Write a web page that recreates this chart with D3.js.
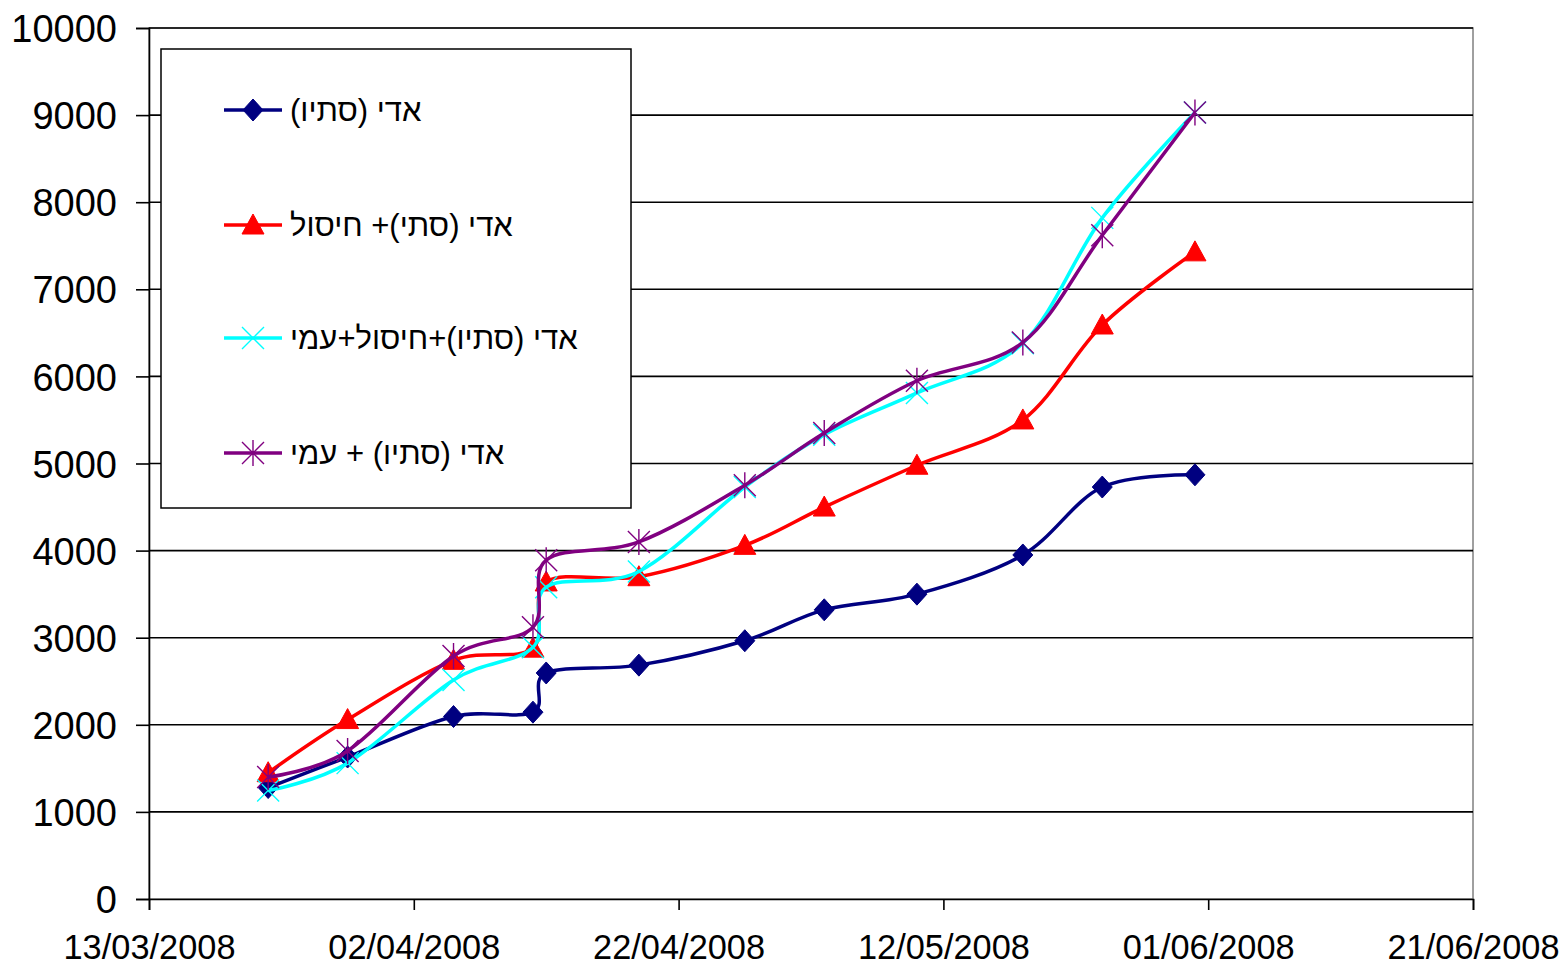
<!DOCTYPE html>
<html>
<head>
<meta charset="utf-8">
<script src="https://cdn.jsdelivr.net/npm/d3@7"></script>
<style>
  body { margin: 0; background: #fff; }
  text { font-family: "Liberation Sans", Arial, sans-serif; }
</style>
</head>
<body>
<svg id="chart"></svg>
<script>
const dates = ["22/03/2008", "28/03/2008", "05/04/2008", "11/04/2008", "12/04/2008", "19/04/2008",
               "27/04/2008", "03/05/2008", "10/05/2008", "18/05/2008", "24/05/2008", "31/05/2008"];

const seriesNames = ["אדי (סתיו)", "אדי (סתי)+ חיסול", "אדי (סתיו)+חיסול+עמי", "אדי (סתיו) + עמי"];
const seriesColors = ["#000080", "#ff0000", "#00ffff", "#800080"];
const seriesMarkers = ["diamond", "triangle", "cross", "asterisk"];

const s1 = [1280, 1630, 2095, 2145, 2595, 2685, 2965, 3320, 3500, 3950, 4730, 4870];
const s2 = [1450, 2060, 2740, 2880, 3640, 3700, 4060, 4500, 4980, 5500, 6590, 7430];
const s3 = [1245, 1560, 2515, 2890, 3580, 3760, 4730, 5330, 5810, 6380, 7820, 9030];
const s4 = [1400, 1700, 2790, 3120, 3890, 4100, 4750, 5350, 5950, 6390, 7620, 9030];
const seriesValues = [s1, s2, s3, s4];

const xTickLabels = ["13/03/2008", "02/04/2008", "22/04/2008", "12/05/2008", "01/06/2008", "21/06/2008"];
const yTicks = [0, 1000, 2000, 3000, 4000, 5000, 6000, 7000, 8000, 9000, 10000];

const width = 1566, height = 967;
const margin = { top: 28, right: 93, bottom: 68, left: 149 };
const chartWidth = width - margin.left - margin.right;
const chartHeight = height - margin.top - margin.bottom;

const parse = d3.utcParse("%d/%m/%Y");

const svg = d3.select("#chart")
  .attr("width", width)
  .attr("height", height);

const x = d3.scaleUtc()
  .domain([parse(xTickLabels[0]), parse(xTickLabels[xTickLabels.length - 1])])
  .range([0, chartWidth]);

const y = d3.scaleLinear()
  .domain([0, 10000])
  .range([chartHeight, 0]);

const g = svg.append("g")
  .attr("transform", `translate(${margin.left},${margin.top})`);

// plot frame
g.append("rect")
  .attr("width", chartWidth)
  .attr("height", chartHeight)
  .attr("fill", "none")
  .attr("stroke", "#808080")
  .attr("stroke-width", 1.5);

// gridlines
g.append("g")
  .selectAll("line")
  .data(yTicks.slice(1))
  .join("line")
    .attr("x1", 0)
    .attr("x2", chartWidth)
    .attr("y1", d => y(d))
    .attr("y2", d => y(d))
    .attr("stroke", "#000")
    .attr("stroke-width", 1.6);

// y axis
g.append("g")
  .call(d3.axisLeft(y).tickValues(yTicks).tickSize(13).tickPadding(19).tickFormat(d3.format("d")))
  .call(a => a.selectAll("line, .domain").attr("stroke", "#000").attr("stroke-width", 1.6))
  .call(a => a.selectAll("text")
    .attr("fill", "#000")
    .attr("font-size", 38)
    .attr("font-family", "'Liberation Sans', Arial, sans-serif")
    .attr("dy", "0.36em"));

// x axis
g.append("g")
  .attr("transform", `translate(0,${chartHeight})`)
  .call(d3.axisBottom(x).tickValues(xTickLabels.map(parse)).tickSize(11).tickPadding(24).tickFormat(d3.utcFormat("%d/%m/%Y")))
  .call(a => a.selectAll("line, .domain").attr("stroke", "#000").attr("stroke-width", 1.6))
  .call(a => a.selectAll("text")
    .attr("fill", "#000")
    .attr("font-size", 35)
    .attr("font-family", "'Liberation Sans', Arial, sans-serif")
    .attr("textLength", 172)
    .attr("lengthAdjust", "spacingAndGlyphs"));

function markerPath(type) {
  if (type === "diamond") return "M0,-11L10,0L0,11L-10,0Z";
  if (type === "triangle") return "M0,-11L11,9L-11,9Z";
  if (type === "cross") return "M-11,-11L11,11M-11,11L11,-11";
  return "M-11,-11L11,11M-11,11L11,-11M0,-13L0,13";
}

function drawMarker(sel, type, color) {
  const filled = type === "diamond" || type === "triangle";
  sel.append("path")
    .attr("d", markerPath(type))
    .attr("fill", filled ? color : "none")
    .attr("stroke", color)
    .attr("stroke-width", filled ? 1 : 1.4);
}

const line = d3.line()
  .x(d => x(d.date))
  .y(d => y(d.value))
  .curve(d3.curveCatmullRom.alpha(0));

seriesValues.forEach((vals, i) => {
  const pts = dates.map((d, j) => ({ date: parse(d), value: vals[j] }));
  g.append("path")
    .datum(pts)
    .attr("fill", "none")
    .attr("stroke", seriesColors[i])
    .attr("stroke-width", 3.5)
    .attr("d", line);
  g.append("g")
    .selectAll("g")
    .data(pts)
    .join("g")
      .attr("transform", d => `translate(${x(d.date)},${y(d.value)})`)
      .each(function () { drawMarker(d3.select(this), seriesMarkers[i], seriesColors[i]); });
});

// legend
const legend = svg.append("g").attr("transform", "translate(161,49)");
legend.append("rect")
  .attr("width", 470)
  .attr("height", 459)
  .attr("fill", "#fff")
  .attr("stroke", "#000")
  .attr("stroke-width", 1.5);

const rowY = [61, 176, 289, 404];
seriesNames.forEach((name, i) => {
  const row = legend.append("g").attr("transform", `translate(0,${rowY[i]})`);
  row.append("line")
    .attr("x1", 63).attr("x2", 121)
    .attr("stroke", seriesColors[i])
    .attr("stroke-width", 3.5);
  drawMarker(row.append("g").attr("transform", "translate(92,0)"), seriesMarkers[i], seriesColors[i]);
  row.append("text")
    .attr("x", 129)
    .attr("y", 0)
    .attr("dy", "0.36em")
    .attr("direction", "rtl")
    .attr("text-anchor", "end")
    .attr("font-size", 31)
    .attr("fill", "#000")
    .text(name);
});
</script>
</body>
</html>
